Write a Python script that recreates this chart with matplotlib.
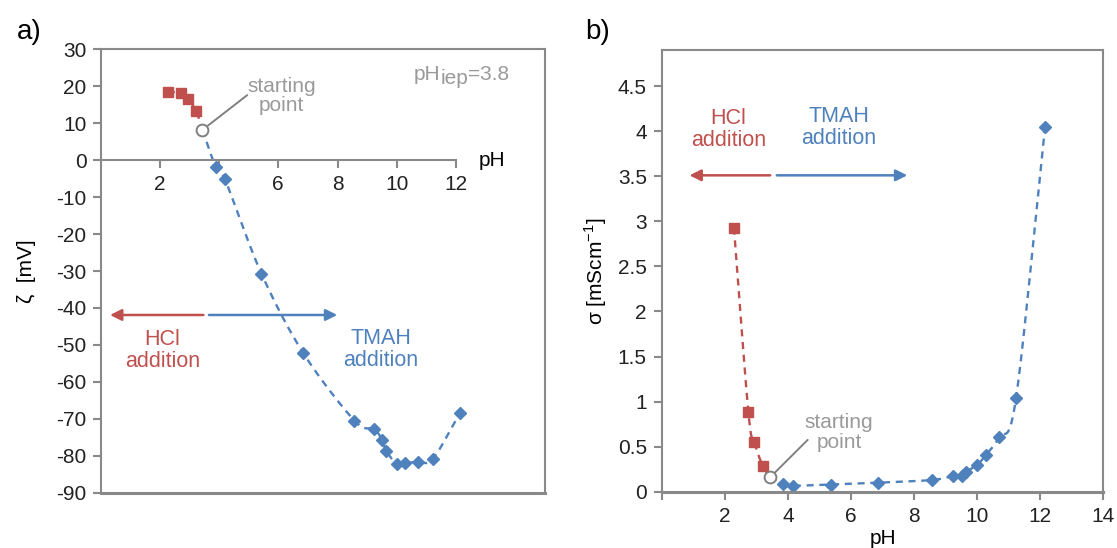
import numpy as np
import matplotlib.pyplot as plt

plt.rcParams['font.family'] = ['Liberation Sans', 'DejaVu Sans']
plt.rcParams['axes.unicode_minus'] = False

red = '#C0504D'
blue = '#4F81BD'
grey = '#898989'
txtgrey = '#9A9A9A'

# zeta potential vs pH
ph_hcl_a = [2.27, 2.72, 2.94, 3.22]
zeta_hcl = [18.5, 18.1, 16.6, 13.4]
ph_start_a = 3.44
zeta_start = 8.2
ph_tmah_a = [3.89, 4.20, 5.43, 6.85, 8.57, 9.23, 9.50, 9.64, 10.0, 10.28, 10.72, 11.22, 12.14]
zeta_tmah = [-1.9, -5.2, -30.7, -52.3, -70.5, -72.8, -75.7, -78.6, -82.3, -82.0, -81.6, -80.8, -68.3]

# conductivity vs pH
ph_hcl_b = [2.28, 2.74, 2.93, 3.19]
sigma_hcl = [2.93, 0.88, 0.55, 0.29]
ph_start_b = 3.43
sigma_start = 0.16
ph_tmah_b = [3.85, 4.16, 5.36, 6.84, 8.57, 9.24, 9.50, 9.64, 10.0, 10.28, 10.70, 11.23, 12.15]
sigma_tmah = [0.086, 0.067, 0.08, 0.10, 0.13, 0.175, 0.175, 0.22, 0.30, 0.41, 0.61, 1.04, 4.05]


def smooth(x, y, n=20):
    # catmull-rom curve through the points, like Excel's smoothed line
    x = np.asarray(x, float)
    y = np.asarray(y, float)
    px = np.concatenate([[2 * x[0] - x[1]], x, [2 * x[-1] - x[-2]]])
    py = np.concatenate([[2 * y[0] - y[1]], y, [2 * y[-1] - y[-2]]])
    t = np.linspace(0, 1, n)
    xs, ys = [], []
    for i in range(1, len(px) - 2):
        for p, out in ((px, xs), (py, ys)):
            p0, p1, p2, p3 = p[i - 1], p[i], p[i + 1], p[i + 2]
            b1 = p1 + (p2 - p0) / 6
            b2 = p2 - (p3 - p1) / 6
            out.extend((1 - t) ** 3 * p1 + 3 * (1 - t) ** 2 * t * b1
                       + 3 * (1 - t) * t ** 2 * b2 + t ** 3 * p2)
    return xs, ys


def style(ax):
    for s in ax.spines.values():
        s.set_visible(True)
        s.set_color(grey)
        s.set_linewidth(1.5)
    ax.tick_params(axis='both', colors=grey, labelcolor='#222222', labelsize=15,
                   length=6, width=1.5, direction='out')


def draw_series(ax, phr, yr, ph0, y0, phb, yb):
    xs, ys = smooth(phr + [ph0], yr + [y0])
    ax.plot(xs, ys, color=red, lw=1.7, dashes=(3, 2.4))
    xs, ys = smooth([ph0] + phb, [y0] + yb)
    ax.plot(xs, ys, color=blue, lw=1.7, dashes=(3, 2.4))
    ax.plot(phr, yr, 's', color=red, ms=7.5, ls='none')
    ax.plot(phb, yb, 'D', color=blue, ms=6.2, ls='none')
    ax.plot(ph0, y0, 'o', mfc='white', mec='#808080', mew=1.4, ms=8.5, zorder=5)


def arrows(ax, y, x_mid_l, x_left, x_mid_r, x_right):
    ax.annotate('', xy=(x_left, y), xytext=(x_mid_l, y),
                arrowprops=dict(arrowstyle='-|>', color=red, lw=1.8, mutation_scale=17,
                                shrinkA=0, shrinkB=0))
    ax.annotate('', xy=(x_right, y), xytext=(x_mid_r, y),
                arrowprops=dict(arrowstyle='-|>', color=blue, lw=1.8, mutation_scale=17,
                                shrinkA=0, shrinkB=0))


fig = plt.figure(figsize=(11.17, 5.48), dpi=100)
axa = fig.add_axes([0.0900, 0.1009, 0.3979, 0.8091])
axb = fig.add_axes([0.5927, 0.1027, 0.3951, 0.8060])

# ---- panel a ----
draw_series(axa, ph_hcl_a, zeta_hcl, ph_start_a, zeta_start, ph_tmah_a, zeta_tmah)
axa.set_xlim(0, 15)
axa.set_ylim(-90, 30)
axa.set_yticks(np.arange(-90, 31, 10))
axa.set_xticks([2, 4, 6, 8, 10, 12])
axa.set_xticklabels(['2', '', '6', '8', '10', '12'])
style(axa)
axa.spines['bottom'].set_position(('data', 0))
axa.spines['bottom'].set_bounds(0, 12)
axa.plot([0, 1], [0, 0], transform=axa.transAxes, color=grey, lw=2.2, clip_on=False)
axa.tick_params(axis='x', pad=5)
axa.tick_params(axis='y', pad=4)
axa.set_ylabel('ζ  [mV]', fontsize=15, labelpad=15)
axa.text(13.2, 0, 'pH', fontsize=15, ha='center', va='center')

# pH_iep label: subscript at full size, just lowered
t1 = axa.text(10.58, 23.3, 'pH', color=txtgrey, fontsize=15, ha='left', va='center')
t2 = axa.annotate('iep', xy=(1, 0), xycoords=t1, xytext=(0, -3.5), textcoords='offset points',
                  color=txtgrey, fontsize=15, ha='left', va='bottom')
axa.annotate('=3.8', xy=(1, 0), xycoords=t2, xytext=(0, 3.5), textcoords='offset points',
             color=txtgrey, fontsize=15, ha='left', va='bottom')

axa.annotate('', xy=(ph_start_a, zeta_start), xytext=(4.95, 17.6),
             arrowprops=dict(arrowstyle='-', color='#808080', lw=1.4, shrinkA=0, shrinkB=5))
axa.text(6.11, 17.4, 'starting\npoint', fontsize=15, color=txtgrey, ha='center',
         va='center', linespacing=1.05)
arrows(axa, -41.9, 3.47, 0.32, 3.66, 7.99)
axa.text(2.09, -51.5, 'HCl\naddition', color=red, fontsize=15.5, ha='center', va='center',
         linespacing=1.05)
axa.text(9.47, -51.2, 'TMAH\naddition', color=blue, fontsize=15.5, ha='center', va='center',
         linespacing=1.05)
fig.text(0.026, 0.942, 'a)', fontsize=20, ha='center', va='center')

# ---- panel b ----
draw_series(axb, ph_hcl_b, sigma_hcl, ph_start_b, sigma_start, ph_tmah_b, sigma_tmah)
axb.set_xlim(0, 14)
axb.set_ylim(0, 4.9)
axb.set_xticks(np.arange(0, 15, 2))
axb.set_xticklabels([''] + [str(v) for v in range(2, 15, 2)])
axb.set_yticks(np.arange(0, 4.6, 0.5))
axb.set_yticklabels(['0', '0.5', '1', '1.5', '2', '2.5', '3', '3.5', '4', '4.5'])
style(axb)
axb.spines['bottom'].set_linewidth(2.2)
axb.tick_params(axis='x', pad=5)
axb.tick_params(axis='y', pad=5)
axb.set_xlabel('pH', fontsize=15, labelpad=2)
axb.set_ylabel('σ [mScm$^{\\mathregular{-1}}$]', fontsize=15, labelpad=6)
axb.annotate('', xy=(ph_start_b, sigma_start), xytext=(4.62, 0.575),
             arrowprops=dict(arrowstyle='-', color='#808080', lw=1.4, shrinkA=0, shrinkB=5))
axb.text(5.62, 0.66, 'starting\npoint', fontsize=15, color=txtgrey, ha='center',
         va='center', linespacing=1.05)
arrows(axb, 3.51, 3.43, 0.87, 3.64, 7.78)
axb.text(2.10, 4.02, 'HCl\naddition', color=red, fontsize=15.5, ha='center', va='center',
         linespacing=1.05)
axb.text(5.61, 4.04, 'TMAH\naddition', color=blue, fontsize=15.5, ha='center', va='center',
         linespacing=1.05)
fig.text(0.535, 0.942, 'b)', fontsize=20, ha='center', va='center')

fig.savefig('out.png', dpi=100)
